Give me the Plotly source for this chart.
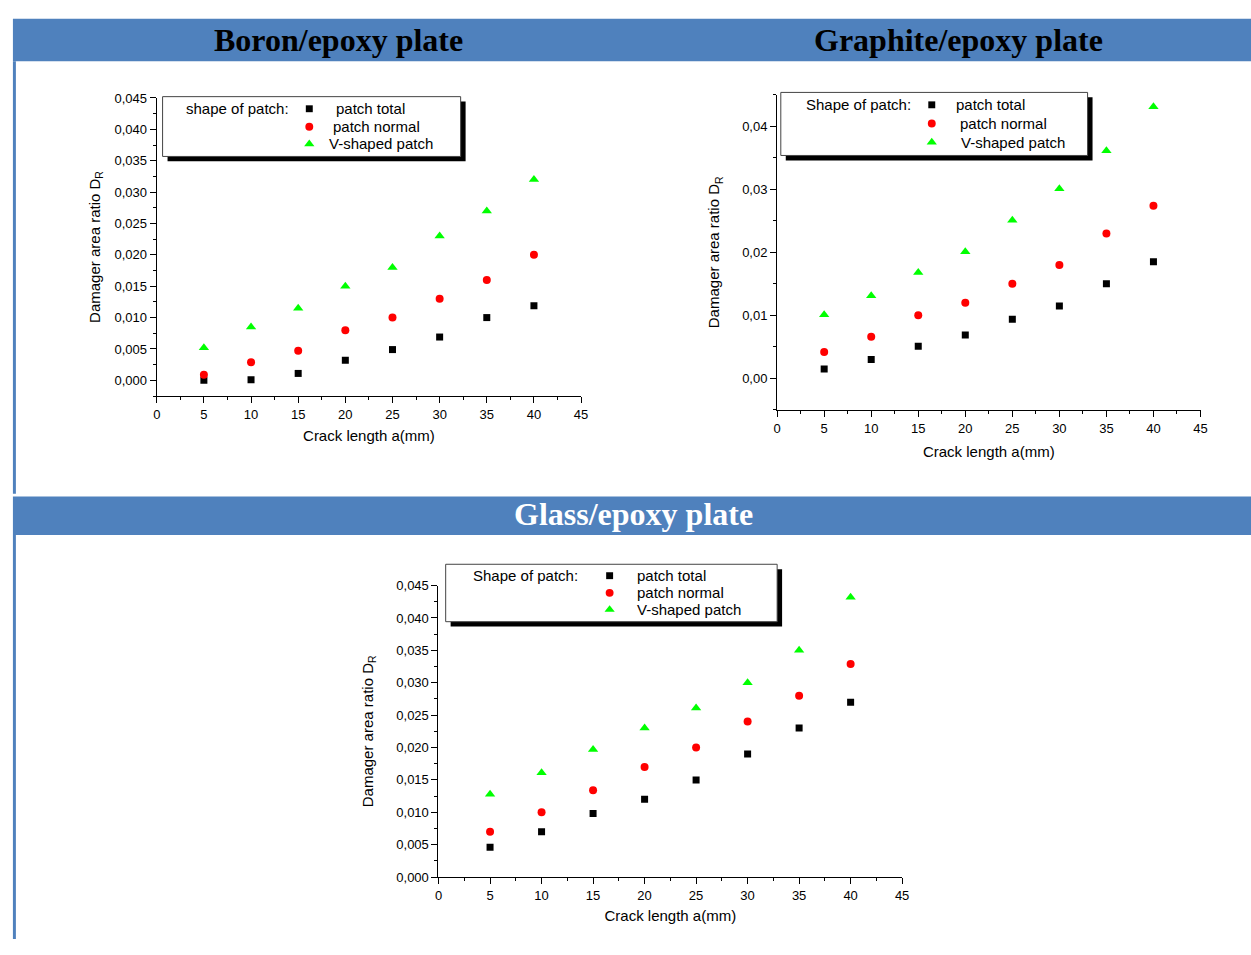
import plotly.graph_objects as go

# Figure kept a little shorter than the 955px window so the page never
# overflows (an overflowing page gets rescaled); reference pixel positions
# map 1:1 onto the figure.
W, H = 1251, 939

# ---------------- data ----------------
crack = [5, 10, 15, 20, 25, 30, 35, 40]
x_ticks = [0, 5, 10, 15, 20, 25, 30, 35, 40, 45]

boron_total = [0.0000, 0.0001, 0.0011, 0.0032, 0.0049, 0.0069, 0.0100, 0.0119]
boron_normal = [0.0009, 0.0029, 0.0047, 0.0080, 0.0100, 0.0130, 0.0160, 0.0200]
boron_v = [0.0052, 0.0085, 0.0115, 0.0150, 0.0180, 0.0230, 0.0270, 0.0320]

graphite_total = [0.0015, 0.0030, 0.0051, 0.0069, 0.0094, 0.0115, 0.0150, 0.0185]
graphite_normal = [0.0042, 0.0066, 0.0100, 0.0120, 0.0150, 0.0180, 0.0230, 0.0274]
graphite_v = [0.0101, 0.0131, 0.0168, 0.0201, 0.0251, 0.0301, 0.0361, 0.0431]

glass_total = [0.0046, 0.0070, 0.0098, 0.0120, 0.0150, 0.0190, 0.0230, 0.0270]
glass_normal = [0.0070, 0.0100, 0.0134, 0.0170, 0.0200, 0.0240, 0.0280, 0.0329]
glass_v = [0.0128, 0.0161, 0.0197, 0.0230, 0.0261, 0.0300, 0.0350, 0.0432]

series_names = ["patch total", "patch normal", "V-shaped patch"]
panel_titles = ["Boron/epoxy plate", "Graphite/epoxy plate", "Glass/epoxy plate"]
legend_titles = ["shape of patch:", "Shape of patch:", "Shape of patch:"]
x_title = "Crack length a(mm)"
y_title = "Damager area ratio D<sub>R</sub>"

# ---------------- helpers ----------------
def fx(px):
    return px / W

def fy(py):
    return 1 - py / H

BLUE = "#4F81BD"
SANS = "Liberation Sans, Arial, sans-serif"
SERIF = "Liberation Serif, Times New Roman, serif"

marker_styles = [
    dict(symbol="square", color="black", size=7),
    dict(symbol="circle", color="#FF0000", size=8),
    dict(symbol="triangle-up", color="#00FF00", size=9),
]

panels = [
    dict(data=[boron_total, boron_normal, boron_v], ax="",
         xdom=(154, 582.3), ydom=(92.3, 394.9), yrange=[-0.0025, 0.04501],
         ydtick=0.005, yminor=0.0025, yfmt=".3f", ystand=10, xstand=9,
         box=(160, 91, 460.7, 151.7),
         ltitle=(182, 103.3), lmark=308, lrows=[103.3, 121.5, 139], ltext=[332.5, 330, 326]),
    dict(data=[graphite_total, graphite_normal, graphite_v], ax="2",
         xdom=(779.9, 1207.2), ydom=(89, 409), yrange=[-0.005, 0.04501],
         ydtick=0.01, yminor=0.005, yfmt=".2f", ystand=18, xstand=11,
         box=(783.7, 86.7, 1093.2, 150.7),
         ltitle=(806.7, 99.3), lmark=936, lrows=[99.3, 118.3, 137.3], ltext=[958, 962.5, 963]),
    dict(data=[glass_total, glass_normal, glass_v], ax="3",
         xdom=(438.3, 906.2), ydom=(587.3, 883.3), yrange=[-0.00001, 0.04501],
         ydtick=0.005, yminor=0.0025, yfmt=".3f", ystand=19, xstand=8,
         box=(445.6, 565.7, 780, 624),
         ltitle=(471, 577.3), lmark=611, lrows=[577.3, 594.7, 611.7], ltext=[637, 637, 637]),
]

fig = go.Figure()
shapes = []
annotations = []
layout = dict(
    width=W, height=H,
    margin=dict(l=0, r=0, t=0, b=0),
    paper_bgcolor="white", plot_bgcolor="white",
    separators=",.",
    showlegend=False,
    font=dict(family=SANS, color="black", size=13),
)

# page frame: header bands and left rules
shapes.append(dict(type="rect", xref="paper", yref="paper", x0=fx(9), x1=fx(12), y0=fy(960), y1=fy(536),
                   fillcolor=BLUE, line=dict(width=0), layer="below"))
shapes.append(dict(type="rect", xref="paper", yref="paper", x0=fx(9), x1=fx(12), y0=fy(494), y1=fy(55),
                   fillcolor=BLUE, line=dict(width=0), layer="below"))
shapes.append(dict(type="rect", xref="paper", yref="paper", x0=fx(9), x1=fx(1260), y0=fy(55), y1=fy(12),
                   fillcolor=BLUE, line=dict(width=0), layer="below"))
shapes.append(dict(type="rect", xref="paper", yref="paper", x0=fx(9), x1=fx(1260), y0=fy(536), y1=fy(497),
                   fillcolor=BLUE, line=dict(width=0), layer="below"))


def legend_marker(j, cx, cy):
    s = marker_styles[j]["size"]
    col = marker_styles[j]["color"]
    if j == 0:
        h = s / 2
        return dict(type="rect", xref="paper", yref="paper", x0=fx(cx - h), x1=fx(cx + h),
                    y0=fy(cy + h), y1=fy(cy - h), fillcolor=col, line=dict(width=0), layer="above")
    if j == 1:
        h = s / 2
        return dict(type="circle", xref="paper", yref="paper", x0=fx(cx - h), x1=fx(cx + h),
                    y0=fy(cy + h), y1=fy(cy - h), fillcolor=col, line=dict(width=0), layer="above")
    r = s / 2
    rt = r * 2 / 3 ** 0.5
    path = "M %f %f L %f %f L %f %f Z" % (fx(cx - rt), fy(cy + r / 2), fx(cx + rt), fy(cy + r / 2),
                                           fx(cx), fy(cy - r))
    return dict(type="path", xref="paper", yref="paper", path=path, fillcolor=col,
                line=dict(width=0), layer="above")


for i, p in enumerate(panels):
    xa = "x" + p["ax"]
    ya = "y" + p["ax"]
    for j, vals in enumerate(p["data"]):
        fig.add_trace(go.Scatter(
            x=crack, y=vals, mode="markers", name=series_names[j],
            marker=dict(symbol=marker_styles[j]["symbol"], color=marker_styles[j]["color"],
                        size=marker_styles[j]["size"], line=dict(width=0)),
            xaxis=xa, yaxis=ya, showlegend=False,
        ))
    common = dict(showline=True, linecolor="black", linewidth=1, mirror=False,
                  ticks="outside", ticklen=6, tickwidth=1, tickcolor="black",
                  showgrid=False, zeroline=False,
                  tickfont=dict(family=SANS, size=13, color="black"))
    layout["xaxis" + p["ax"]] = dict(
        common, domain=[fx(p["xdom"][0]), fx(p["xdom"][1])], anchor=ya,
        range=[-0.01, 45.01], tickmode="array", tickvals=x_ticks,
        minor=dict(ticks="outside", ticklen=3, dtick=2.5, tick0=0, tickcolor="black", showgrid=False),
        title=dict(text=x_title, font=dict(family=SANS, size=15, color="black"), standoff=p["xstand"]),
    )
    layout["yaxis" + p["ax"]] = dict(
        common, domain=[fy(p["ydom"][1]), fy(p["ydom"][0])], anchor=xa,
        range=p["yrange"], tick0=0, dtick=p["ydtick"], tickformat=p["yfmt"],
        minor=dict(ticks="outside", ticklen=3, dtick=p["yminor"], tick0=0, tickcolor="black", showgrid=False),
        title=dict(text=y_title, font=dict(family=SANS, size=15, color="black"), standoff=p["ystand"]),
    )
    # legend frame with drop shadow
    l, t, r, b = p["box"]
    shapes.append(dict(type="rect", xref="paper", yref="paper",
                       x0=fx(l + 5), x1=fx(r + 5), y0=fy(b + 5), y1=fy(t + 5),
                       fillcolor="black", line=dict(width=0), layer="above"))
    shapes.append(dict(type="rect", xref="paper", yref="paper",
                       x0=fx(l), x1=fx(r), y0=fy(b), y1=fy(t),
                       fillcolor="white", line=dict(color="#444", width=1), layer="above"))
    annotations.append(dict(text=legend_titles[i], xref="paper", yref="paper",
                            x=fx(p["ltitle"][0]), y=fy(p["ltitle"][1]),
                            xanchor="left", yanchor="middle", showarrow=False,
                            font=dict(family=SANS, size=15, color="black")))
    for j in range(3):
        shapes.append(legend_marker(j, p["lmark"], p["lrows"][j]))
        annotations.append(dict(text=series_names[j], xref="paper", yref="paper",
                                x=fx(p["ltext"][j]), y=fy(p["lrows"][j]),
                                xanchor="left", yanchor="middle", showarrow=False,
                                font=dict(family=SANS, size=15, color="black")))

header_pos = [(337.5, 34, "black"), (963, 34, "black"), (635, 515, "white")]
for (hx, hy, col), txt in zip(header_pos, panel_titles):
    annotations.append(dict(
        text="<b>%s</b>" % txt, xref="paper", yref="paper", x=fx(hx), y=fy(hy),
        xanchor="center", yanchor="middle", showarrow=False,
        font=dict(family=SERIF, size=32, color=col),
    ))

layout["shapes"] = shapes
layout["annotations"] = annotations
fig.update_layout(**layout)
fig.write_html("out.html")
